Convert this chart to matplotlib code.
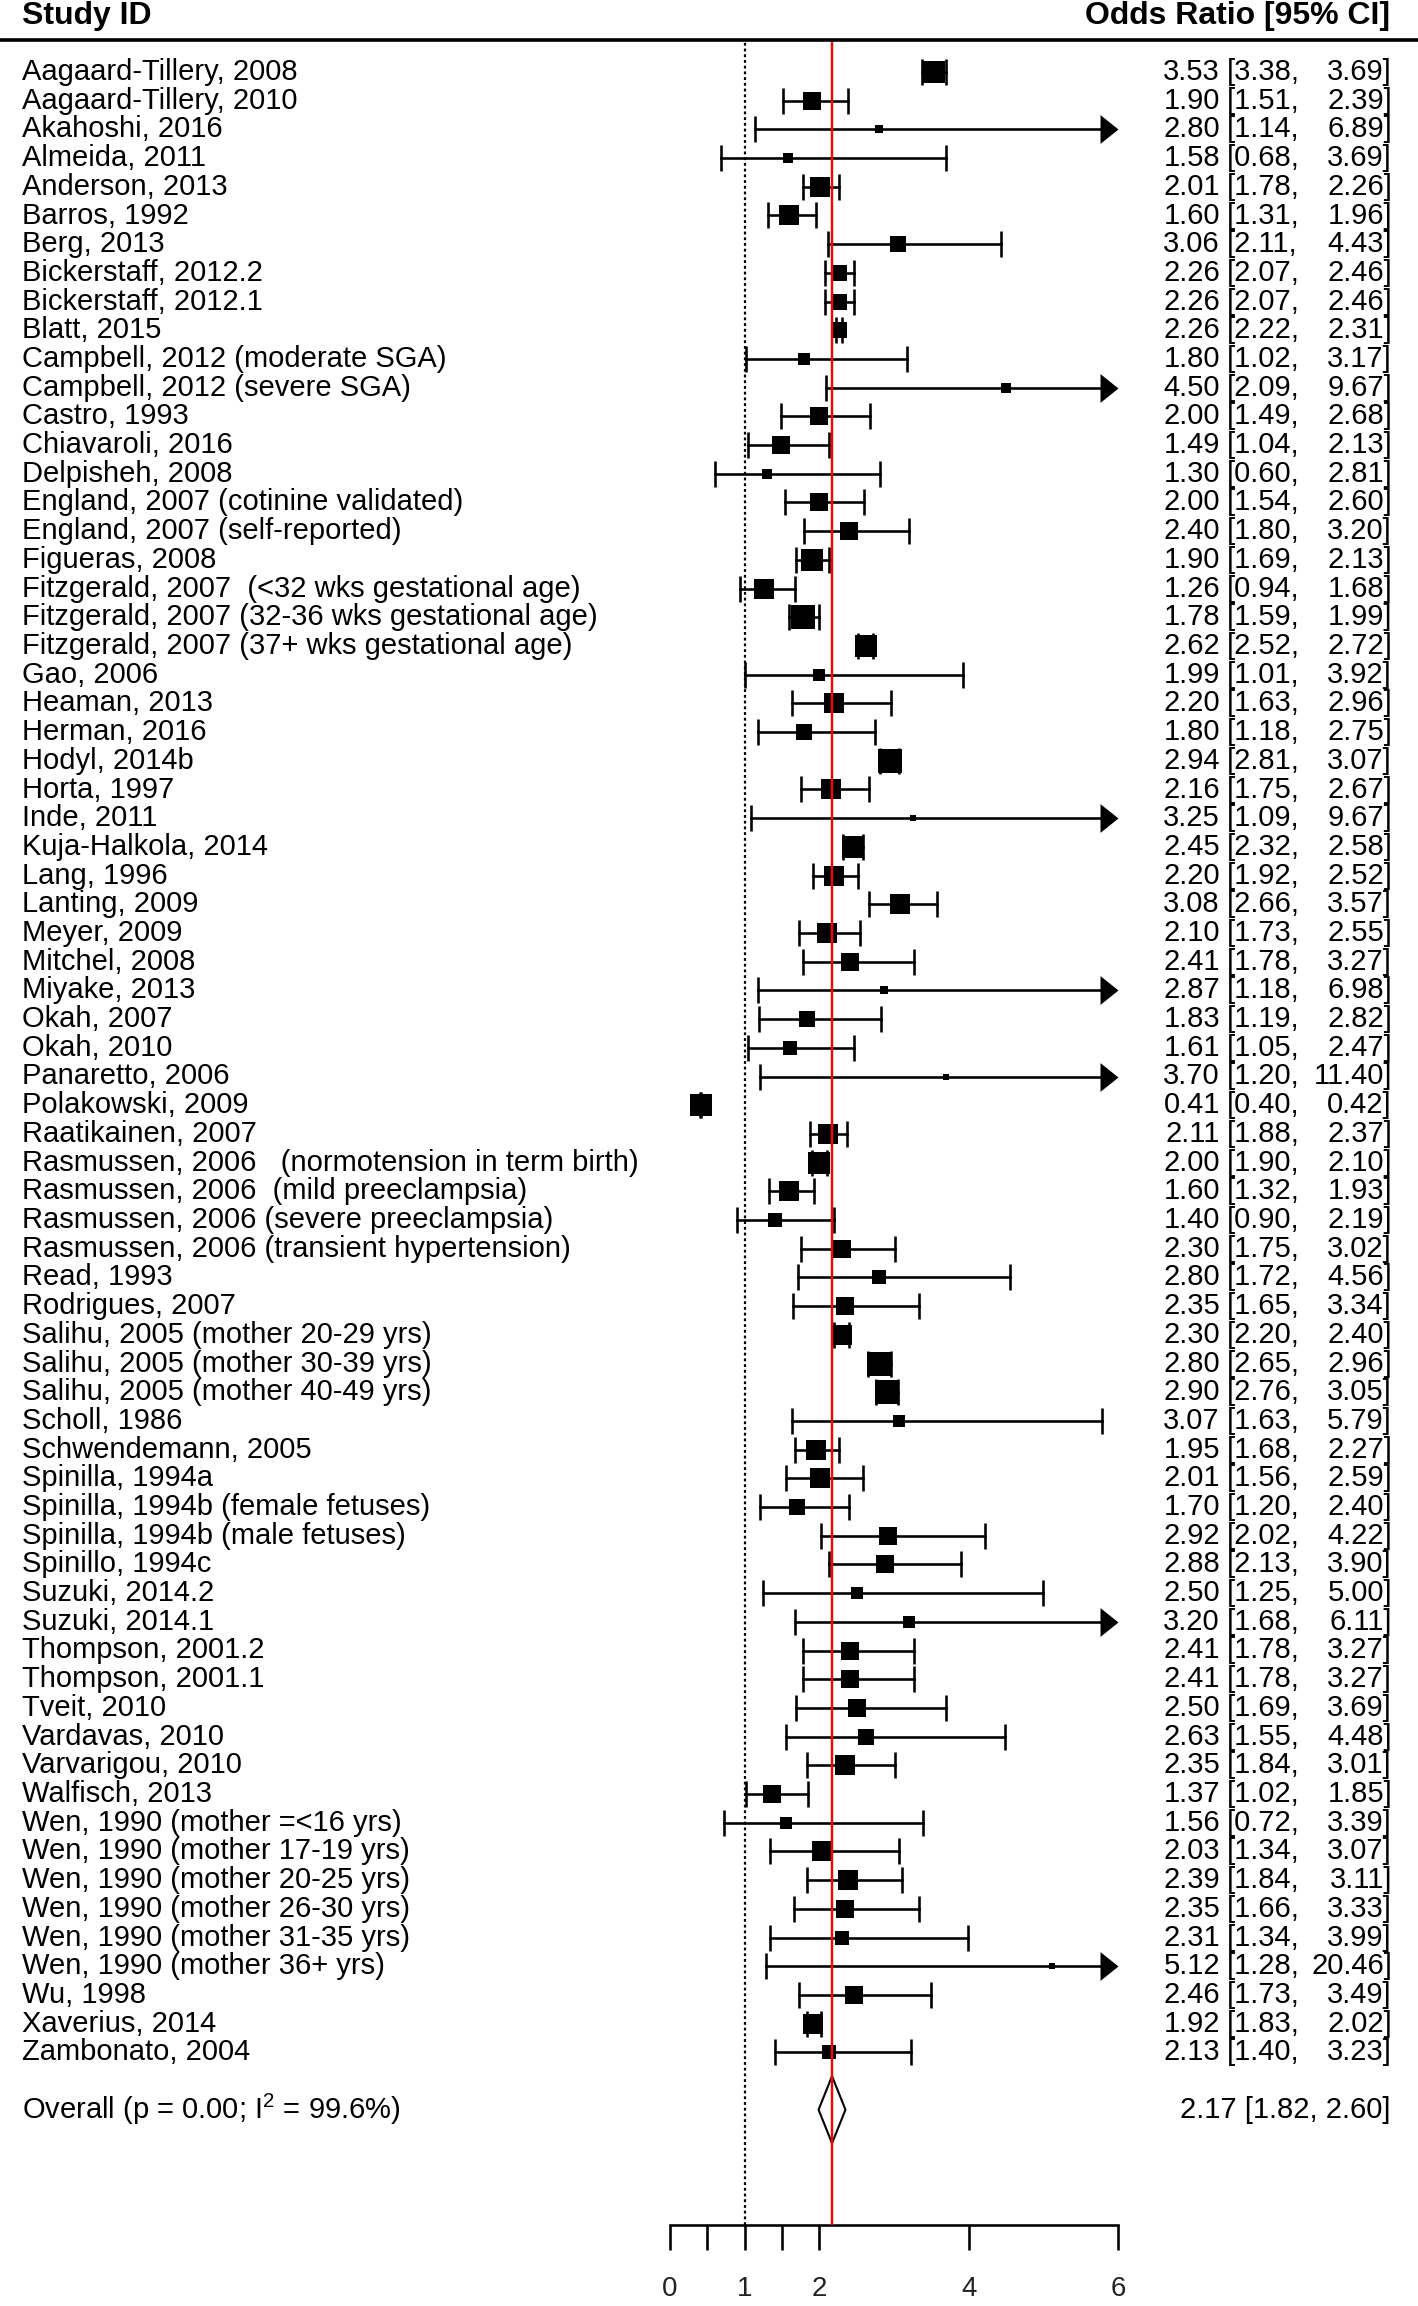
import numpy as np
import matplotlib
matplotlib.use("Agg")
import matplotlib.pyplot as plt
from matplotlib.transforms import blended_transform_factory
from matplotlib.lines import Line2D
from matplotlib.patches import Polygon
from matplotlib.path import Path

plt.rcParams['font.family'] = ['Liberation Sans', 'DejaVu Sans']
plt.rcParams['mathtext.fontset'] = 'custom'
plt.rcParams['mathtext.rm'] = 'Liberation Sans'
plt.rcParams['mathtext.it'] = 'Liberation Sans:italic'

# ---- data ----
studies = [
    "Aagaard-Tillery, 2008", "Aagaard-Tillery, 2010", "Akahoshi, 2016", "Almeida, 2011",
    "Anderson, 2013", "Barros, 1992", "Berg, 2013", "Bickerstaff, 2012.2", "Bickerstaff, 2012.1",
    "Blatt, 2015", "Campbell, 2012 (moderate SGA)", "Campbell, 2012 (severe SGA)", "Castro, 1993",
    "Chiavaroli, 2016", "Delpisheh, 2008", "England, 2007 (cotinine validated)",
    "England, 2007 (self-reported)", "Figueras, 2008",
    "Fitzgerald, 2007  (<32 wks gestational age)", "Fitzgerald, 2007 (32-36 wks gestational age)",
    "Fitzgerald, 2007 (37+ wks gestational age)", "Gao, 2006", "Heaman, 2013", "Herman, 2016",
    "Hodyl, 2014b", "Horta, 1997", "Inde, 2011", "Kuja-Halkola, 2014", "Lang, 1996",
    "Lanting, 2009", "Meyer, 2009", "Mitchel, 2008", "Miyake, 2013", "Okah, 2007", "Okah, 2010",
    "Panaretto, 2006", "Polakowski, 2009", "Raatikainen, 2007",
    "Rasmussen, 2006   (normotension in term birth)", "Rasmussen, 2006  (mild preeclampsia)",
    "Rasmussen, 2006 (severe preeclampsia)", "Rasmussen, 2006 (transient hypertension)",
    "Read, 1993", "Rodrigues, 2007", "Salihu, 2005 (mother 20-29 yrs)",
    "Salihu, 2005 (mother 30-39 yrs)", "Salihu, 2005 (mother 40-49 yrs)", "Scholl, 1986",
    "Schwendemann, 2005", "Spinilla, 1994a", "Spinilla, 1994b (female fetuses)",
    "Spinilla, 1994b (male fetuses)", "Spinillo, 1994c", "Suzuki, 2014.2", "Suzuki, 2014.1",
    "Thompson, 2001.2", "Thompson, 2001.1", "Tveit, 2010", "Vardavas, 2010", "Varvarigou, 2010",
    "Walfisch, 2013", "Wen, 1990 (mother =<16 yrs)", "Wen, 1990 (mother 17-19 yrs)",
    "Wen, 1990 (mother 20-25 yrs)", "Wen, 1990 (mother 26-30 yrs)", "Wen, 1990 (mother 31-35 yrs)",
    "Wen, 1990 (mother 36+ yrs)", "Wu, 1998", "Xaverius, 2014", "Zambonato, 2004",
]
odds = [3.53, 1.90, 2.80, 1.58, 2.01, 1.60, 3.06, 2.26, 2.26, 2.26, 1.80, 4.50, 2.00, 1.49,
        1.30, 2.00, 2.40, 1.90, 1.26, 1.78, 2.62, 1.99, 2.20, 1.80, 2.94, 2.16, 3.25, 2.45,
        2.20, 3.08, 2.10, 2.41, 2.87, 1.83, 1.61, 3.70, 0.41, 2.11, 2.00, 1.60, 1.40, 2.30,
        2.80, 2.35, 2.30, 2.80, 2.90, 3.07, 1.95, 2.01, 1.70, 2.92, 2.88, 2.50, 3.20, 2.41,
        2.41, 2.50, 2.63, 2.35, 1.37, 1.56, 2.03, 2.39, 2.35, 2.31, 5.12, 2.46, 1.92, 2.13]
ci_lo = [3.38, 1.51, 1.14, 0.68, 1.78, 1.31, 2.11, 2.07, 2.07, 2.22, 1.02, 2.09, 1.49, 1.04,
         0.60, 1.54, 1.80, 1.69, 0.94, 1.59, 2.52, 1.01, 1.63, 1.18, 2.81, 1.75, 1.09, 2.32,
         1.92, 2.66, 1.73, 1.78, 1.18, 1.19, 1.05, 1.20, 0.40, 1.88, 1.90, 1.32, 0.90, 1.75,
         1.72, 1.65, 2.20, 2.65, 2.76, 1.63, 1.68, 1.56, 1.20, 2.02, 2.13, 1.25, 1.68, 1.78,
         1.78, 1.69, 1.55, 1.84, 1.02, 0.72, 1.34, 1.84, 1.66, 1.34, 1.28, 1.73, 1.83, 1.40]
ci_hi = [3.69, 2.39, 6.89, 3.69, 2.26, 1.96, 4.43, 2.46, 2.46, 2.31, 3.17, 9.67, 2.68, 2.13,
         2.81, 2.60, 3.20, 2.13, 1.68, 1.99, 2.72, 3.92, 2.96, 2.75, 3.07, 2.67, 9.67, 2.58,
         2.52, 3.57, 2.55, 3.27, 6.98, 2.82, 2.47, 11.40, 0.42, 2.37, 2.10, 1.93, 2.19, 3.02,
         4.56, 3.34, 2.40, 2.96, 3.05, 5.79, 2.27, 2.59, 2.40, 4.22, 3.90, 5.00, 6.11, 3.27,
         3.27, 3.69, 4.48, 3.01, 1.85, 3.39, 3.07, 3.11, 3.33, 3.99, 20.46, 3.49, 2.02, 3.23]
# study weight, as the width of its box in the picture (pixels)
weight = [20, 16, 8, 9, 18, 18, 15, 15, 15, 15, 11, 9, 16, 16, 9, 16, 16, 20, 18, 21,
          19, 11, 18, 14, 21, 18, 6, 20, 18, 18, 18, 16, 8, 14, 13, 6, 20, 18, 20, 18,
          13, 16, 13, 16, 18, 21, 21, 11, 18, 18, 14, 16, 16, 11, 11, 16, 16, 16, 14, 18,
          16, 11, 17, 18, 16, 12, 6, 16, 18, 13]

overall_label = "Overall (p = 0.00; I$^{2}$ = 99.6%)"
overall_or, overall_lo, overall_hi = 2.17, 1.82, 2.60

x_ticks = [0, 0.5, 1, 1.5, 2, 4, 6]
x_ticklabels = ['0', '', '1', '', '2', '4', '6']
x_max = 6

# ---- layout ----
W, H = 1418, 2306
PT = 0.72  # points per pixel at dpi 100
row_px = 28.7
first_row_px = 72
y_top, y_bot = -0.1, 76
top_px = first_row_px + (y_top - 1) * row_px
bot_px = first_row_px + (y_bot - 1) * row_px

fig = plt.figure(figsize=(W / 100, H / 100), dpi=100)
ax = fig.add_axes([670 / W, 1 - bot_px / H, 448 / W, (bot_px - top_px) / H])
ax.set_xlim(0, x_max)
ax.set_ylim(y_bot, y_top)

lw = 2.6 * PT
cap_ms = 26 * PT
box_scale = 1.12
arrow = Path([(0, 0), (-1, 0.8), (-1, -0.8), (0, 0)],
             [Path.MOVETO, Path.LINETO, Path.LINETO, Path.CLOSEPOLY])

rows = np.arange(1, len(studies) + 1)
for i, yi in enumerate(rows):
    if ci_hi[i] > x_max:
        ax.plot([ci_lo[i], x_max - 0.1], [yi, yi], color='black', lw=lw, clip_on=False)
        ax.plot([x_max], [yi], marker=arrow, ms=36 * PT, color='black',
                mew=0, clip_on=False)
    else:
        ax.plot([ci_lo[i], ci_hi[i]], [yi, yi], color='black', lw=lw, clip_on=False)
        ax.plot([ci_hi[i]], [yi], marker='|', ms=cap_ms, mew=lw, color='black', clip_on=False)
    ax.plot([ci_lo[i]], [yi], marker='|', ms=cap_ms, mew=lw, color='black', clip_on=False)
    ax.plot([odds[i]], [yi], marker='s', ms=weight[i] * box_scale * PT, color='black', mew=0,
            clip_on=False, zorder=3)

overall_row = 72
diamond_hw = 0.18
diamond_h = 1.17
ax.add_patch(Polygon([(overall_or - diamond_hw, overall_row), (overall_or, overall_row - diamond_h),
                      (overall_or + diamond_hw, overall_row), (overall_or, overall_row + diamond_h)],
                     closed=True, facecolor='white', edgecolor='black', lw=1.5, zorder=4))

ax.axvline(1, color='black', lw=2.2 * PT, ls=(0, (1.3, 1.3)), zorder=1)
ax.axvline(overall_or, color='red', lw=1.7, zorder=6)

for s in ['top', 'left', 'right']:
    ax.spines[s].set_visible(False)
ax.spines['bottom'].set_linewidth(lw)
ax.set_yticks([])
ax.set_xticks(x_ticks, labels=x_ticklabels)
ax.tick_params(axis='x', direction='out', length=25 * PT, width=lw, pad=27 * PT,
               labelsize=20, labelcolor='#222222')
ax.patch.set_alpha(0)

# ---- text columns ----
tr = blended_transform_factory(fig.transFigure, ax.transData)
fs = 21
for i, yi in enumerate(rows):
    ax.text(22 / W, yi, studies[i], transform=tr, fontsize=fs, va='center', ha='left')
    ax.text(1220 / W, yi, "%.2f" % odds[i], transform=tr, fontsize=fs, va='center', ha='right')
    ax.text(1227 / W, yi, "[%.2f," % ci_lo[i], transform=tr, fontsize=fs, va='center', ha='left')
    ax.text(1392 / W, yi, "%.2f]" % ci_hi[i], transform=tr, fontsize=fs, va='center', ha='right')

ax.text(22 / W, overall_row, overall_label, transform=tr, fontsize=fs, va='center', ha='left')
ax.text(1390 / W, overall_row, "%.2f [%.2f, %.2f]" % (overall_or, overall_lo, overall_hi),
        transform=tr, fontsize=fs, va='center', ha='right')

# header
fig.text(22 / W, 1 - 16 / H, "Study ID", fontsize=23, fontweight='bold', va='center', ha='left')
fig.text(1390 / W, 1 - 16 / H, "Odds Ratio [95% CI]", fontsize=23, fontweight='bold',
         va='center', ha='right')
fig.add_artist(Line2D([0, 1], [1 - 40 / H] * 2, transform=fig.transFigure, color='black', lw=2.6))

fig.savefig("out.png", dpi=100)
